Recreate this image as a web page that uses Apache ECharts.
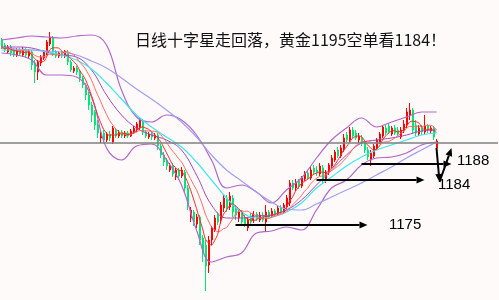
<!DOCTYPE html>
<html><head><meta charset="utf-8">
<script src="https://cdn.jsdelivr.net/npm/echarts/dist/echarts.min.js"></script>
<style>html,body{margin:0;padding:0;background:#fffafa}#c{width:499px;height:300px}</style>
</head><body><div id="c"></div>
<script>
const titleText = '日线十字星走回落，黄金1195空单看1184！';
const slots = 166;
const categories = Array.from({length: slots}, (_, i) => 'K' + (i + 1));
// [open, close, low, high]
const candles = [
[1212.0,1210.6,1210.2,1212.4],[1211.0,1210.0,1209.6,1211.4],[1209.6,1210.6,1209.2,1211.0],[1210.6,1209.4,1208.8,1211.0],
[1210.0,1209.0,1208.6,1210.4],[1209.0,1210.0,1208.6,1210.4],[1210.0,1209.2,1208.8,1210.4],[1209.0,1210.2,1208.6,1210.6],
[1210.0,1209.0,1208.4,1210.4],[1208.8,1209.8,1208.4,1210.2],[1209.6,1207.0,1206.0,1210.0],[1207.4,1205.6,1203.4,1208.0],
[1205.6,1207.6,1204.0,1208.0],[1207.4,1208.6,1206.8,1209.0],[1208.4,1209.6,1208.0,1210.0],[1209.4,1211.6,1209.0,1212.0],
[1211.2,1212.6,1210.8,1213.6],[1212.4,1209.6,1208.8,1212.8],[1209.6,1208.8,1208.4,1210.0],[1208.8,1209.4,1208.4,1209.8],
[1209.4,1208.8,1208.4,1209.8],[1208.8,1209.8,1208.4,1210.0],[1209.6,1207.6,1207.0,1210.0],[1207.6,1206.0,1205.6,1208.0],
[1205.8,1206.4,1205.4,1206.8],[1206.4,1205.6,1205.0,1206.8],[1205.6,1204.4,1203.6,1206.0],[1204.4,1203.0,1202.4,1204.8],
[1203.0,1201.0,1200.0,1203.4],[1201.0,1199.0,1198.0,1201.6],[1199.0,1197.0,1195.6,1199.6],[1197.6,1195.0,1194.0,1198.0],
[1195.0,1193.4,1192.4,1196.0],[1192.4,1193.4,1191.4,1194.0],[1193.4,1192.0,1191.4,1194.0],[1192.0,1193.2,1191.6,1193.6],
[1193.2,1192.4,1191.8,1193.8],[1191.6,1194.4,1191.2,1194.8],[1194.0,1192.8,1192.4,1194.4],[1192.8,1193.6,1192.4,1194.0],
[1193.6,1192.8,1192.4,1194.0],[1192.8,1193.4,1192.4,1193.8],[1193.4,1192.8,1192.4,1193.8],[1192.8,1193.8,1192.6,1194.2],
[1193.6,1194.4,1193.2,1194.8],[1194.0,1195.2,1193.6,1195.6],[1194.4,1196.0,1194.0,1196.6],[1195.8,1193.6,1193.0,1196.2],
[1193.6,1192.8,1192.4,1194.0],[1192.6,1193.2,1192.2,1193.6],[1193.2,1192.6,1192.0,1193.6],[1192.4,1193.0,1192.0,1193.4],
[1193.0,1190.8,1190.0,1193.4],[1190.8,1189.0,1188.4,1191.2],[1189.0,1187.6,1186.8,1189.6],[1188.0,1186.8,1186.0,1188.4],
[1186.0,1187.0,1185.6,1187.4],[1186.8,1185.2,1184.6,1187.4],[1184.6,1186.0,1184.0,1186.4],[1186.0,1184.8,1184.0,1186.4],
[1184.8,1186.0,1184.4,1186.6],[1185.6,1182.4,1181.6,1186.0],[1182.4,1179.0,1178.0,1183.0],[1176.4,1178.0,1175.6,1178.6],
[1177.6,1175.6,1174.8,1178.0],[1175.2,1176.6,1174.4,1177.2],[1176.6,1172.0,1171.0,1177.0],[1172.4,1169.6,1167.6,1173.0],
[1171.0,1166.8,1161.8,1172.0],[1167.0,1172.0,1165.4,1172.8],[1172.0,1174.4,1171.0,1174.8],[1174.0,1176.4,1173.6,1177.0],
[1177.0,1175.6,1175.0,1177.6],[1176.0,1179.0,1175.2,1179.6],[1178.4,1180.4,1177.6,1181.0],[1180.4,1178.4,1177.6,1181.0],
[1178.6,1180.8,1178.0,1181.6],[1180.4,1177.6,1176.6,1181.0],[1178.4,1177.0,1176.0,1179.0],[1176.4,1177.6,1175.6,1178.0],
[1177.6,1175.6,1175.0,1178.0],[1176.4,1175.2,1174.6,1177.0],[1174.4,1176.0,1173.8,1176.6],[1176.8,1175.6,1175.2,1177.4],
[1176.0,1177.2,1175.4,1177.8],[1177.2,1176.2,1175.8,1177.6],[1176.0,1177.0,1175.6,1177.6],[1177.0,1176.0,1175.6,1177.6],
[1175.6,1177.6,1173.6,1179.0],[1177.6,1176.6,1176.2,1178.0],[1176.8,1177.8,1176.4,1178.4],[1177.8,1177.0,1176.6,1178.2],
[1177.2,1178.4,1176.8,1179.0],[1178.4,1177.6,1177.2,1179.0],[1177.6,1179.0,1177.2,1179.4],[1178.6,1180.4,1178.0,1181.0],
[1179.4,1183.4,1178.8,1184.0],[1183.4,1182.4,1182.0,1184.0],[1182.4,1183.6,1181.8,1184.2],[1183.8,1182.8,1182.2,1184.2],
[1182.8,1184.4,1182.4,1184.8],[1184.2,1185.4,1183.8,1185.8],[1185.4,1184.4,1184.0,1185.8],[1184.4,1186.0,1184.0,1186.6],
[1186.4,1185.6,1185.0,1187.0],[1186.0,1185.4,1184.8,1186.8],[1185.2,1186.8,1184.8,1187.4],[1186.4,1184.0,1183.2,1187.0],
[1184.0,1185.6,1183.4,1186.0],[1185.6,1187.0,1185.0,1187.4],[1186.8,1188.4,1186.4,1189.0],[1188.0,1189.6,1187.6,1190.0],
[1190.0,1188.8,1188.4,1190.6],[1188.8,1190.4,1188.4,1191.0],[1190.0,1192.4,1189.6,1193.2],[1193.0,1192.0,1191.6,1193.6],
[1192.0,1194.0,1191.6,1194.6],[1194.0,1192.8,1192.4,1194.6],[1193.4,1192.4,1192.0,1194.0],[1192.0,1192.8,1191.4,1193.4],
[1192.4,1191.4,1190.8,1193.0],[1191.6,1190.0,1189.4,1192.0],[1190.0,1188.6,1188.0,1190.6],[1188.0,1189.4,1186.8,1190.0],
[1188.8,1190.8,1188.4,1191.2],[1190.4,1192.0,1190.0,1192.4],[1191.6,1193.2,1191.2,1193.6],[1192.8,1194.6,1192.4,1195.0],
[1194.4,1193.4,1193.0,1195.0],[1194.8,1193.6,1193.2,1195.4],[1193.2,1194.4,1192.8,1194.8],[1194.4,1193.4,1193.0,1195.0],
[1194.0,1193.2,1192.8,1194.6],[1192.6,1194.0,1192.2,1194.6],[1193.8,1195.2,1193.4,1196.0],[1195.0,1197.6,1194.4,1198.4],
[1197.0,1198.0,1196.0,1199.4],[1198.0,1194.0,1193.2,1198.4],[1195.0,1193.4,1192.8,1196.0],[1193.2,1194.4,1192.8,1195.0],
[1194.4,1193.6,1193.0,1195.0],[1193.6,1194.8,1193.2,1197.0],[1194.8,1194.0,1193.4,1195.2],[1193.8,1194.4,1193.4,1194.8],
[1194.4,1192.6,1192.0,1194.8],[1190.4,1191.8,1190.0,1192.2]
];
// indicator lines, read every 5 bars
const lineIdx = [0,5,10,15,20,25,30,35,40,45,50,55,60,65,70,75,80,85,90,95,100,105,110,115,120,125,130,135,140,145];
const bollUpper = [1212,1212.4,1212.8,1212.6,1212.4,1212.8,1213,1211,1202,1196.6,1195.6,1197,1196,1193,1188,1182.4,1183,1181.6,1179.4,1182,1184.4,1188.4,1192,1194.4,1196.4,1194.6,1195.6,1196.6,1197.6,1197.6];
const bollMid = [1210.6,1210.6,1210.4,1209.6,1209,1208.6,1206,1201,1197,1194.4,1193,1192,1190,1185,1179,1176.4,1176.4,1176.8,1177,1178,1180,1183,1186,1189,1191.4,1192,1192.4,1193,1193.8,1194];
const bollLower = [1209.4,1209,1208,1205,1205,1204.6,1200.6,1190.4,1188,1190.8,1191.2,1188,1183,1174,1167.6,1168.6,1169.4,1173.4,1173.8,1174.6,1174,1178,1182.4,1184,1187,1188.4,1188.6,1189.4,1191,1191.6];
const maCyan = [1210,1210,1210,1209.6,1209,1208,1206.2,1203.4,1200.2,1197,1194.6,1192.6,1190.6,1187.6,1184,1180.4,1177.6,1176.4,1176.6,1177.6,1179.4,1182.4,1184.6,1186.8,1188.6,1190,1191,1192,1193,1193.4];
const maLavender = [1210.4,1210.2,1210,1209.8,1209.6,1209,1207.8,1206.4,1204.4,1202.2,1200.2,1198,1195.6,1192.6,1189,1186,1183.8,1181.6,1179.6,1178.2,1178,1179.2,1180.6,1182,1183.4,1185,1186.6,1188.4,1190,1191.6];
// annotation levels
const levelLine = 1191.4;
const arrow1175 = [[78,1175],[122,1175]];
const arrow1184 = [[105,1184],[141,1184]];
const arrow1188 = [[120,1187.2],[150,1187.2]];
const arrowDown = [[145,1190.4],[146,1183.6]];
const arrowUp = [[146,1183.6],[150,1190.4]];
const labels = [{t:'1188',x:457,y:153},{t:'1184',x:438,y:177},{t:'1175',x:389,y:217}];

function ma(n){
  return candles.map((c,i)=>{const s=Math.max(0,i-n+1);let sum=0;for(let j=s;j<=i;j++)sum+=candles[j][1];return +(sum/(i-s+1)).toFixed(2);});
}
const ma5 = ma(5), ma10 = ma(10);
const mk = (name, pts, color, smooth, w) => ({type:'line', name, data: pts, smooth: smooth, symbol:'none', silent:true, lineStyle:{color, width:w||1}, z:3});
const sampled = vals => lineIdx.map((x,k)=>[x, vals[k]]);
const arrowLine = (name, a) => ({type:'line', name, data:a, symbol:['none','arrow'], symbolSize:9, showSymbol:true, silent:true,
  lineStyle:{color:'#000',width:1.8}, itemStyle:{color:'#000'}, z:6});

const chart = echarts.init(document.getElementById('c'), null, {renderer:'canvas'});
chart.setOption({
  animation:false,
  backgroundColor:'#fffafa',
  grid:{left:0,right:1,top:0,bottom:0},
  xAxis:{type:'category',data:categories,boundaryGap:true,show:false},
  yAxis:{type:'value',min:1160,max:1220,show:false},
  series:[
    {type:'candlestick',data:candles,barWidth:1.5,z:2,
      itemStyle:{color:'#ff0000',color0:'#00e676',borderColor:'#ff0000',borderColor0:'#00e676',borderWidth:1},
      markLine:{silent:true,symbol:'none',label:{show:false},
        data:[{yAxis:levelLine,lineStyle:{color:'#808080',width:1.5,type:'solid'}}]}
    },
    mk('BOLL上轨', sampled(bollUpper), '#b266c8', 0.4, 1.2),
    mk('BOLL中轨', sampled(bollMid), '#a04cb8', 0.4, 1),
    mk('BOLL下轨', sampled(bollLower), '#b266c8', 0.4, 1.2),
    mk('MA青', sampled(maCyan), '#3ee6f2', 0.4, 1.2),
    mk('MA紫', sampled(maLavender), '#a0a0f0', 0.4, 1.2),
    mk('MA10', ma10, '#ff6a6a', 0.3, 1),
    mk('MA5', ma5, '#ff2a2a', 0.3, 1),
    {type:'custom', name:'arrows', silent:true, z:6,
      data:[arrow1175,arrow1184,arrow1188,arrowDown,arrowUp].map(a=>[a[0][0],a[0][1],a[1][0],a[1][1]]),
      renderItem:(params, api)=>{
        const p0 = api.coord([api.value(0), api.value(1)]);
        const p1 = api.coord([api.value(2), api.value(3)]);
        const ang = Math.atan2(p1[1]-p0[1], p1[0]-p0[0]);
        const L = 8, W = 3.5;
        const bx = p1[0]-L*Math.cos(ang), by = p1[1]-L*Math.sin(ang);
        const nx = -Math.sin(ang)*W, ny = Math.cos(ang)*W;
        return {type:'group', children:[
          {type:'line', shape:{x1:p0[0],y1:p0[1],x2:bx,y2:by}, style:{stroke:'#000',lineWidth:2}},
          {type:'polygon', shape:{points:[[p1[0],p1[1]],[bx+nx,by+ny],[bx-nx,by-ny]]}, style:{fill:'#000'}}
        ]};
      }
    }
  ],
  graphic:[
    {type:'text',left:135,top:32,style:{text:titleText,font:'16px "Noto Sans CJK SC"',fill:'#111'}}
  ].concat(labels.map(l=>({type:'text',left:l.x,top:l.y,style:{text:l.t,font:'15px "Liberation Sans"',fill:'#000'}})))
});
</script></body></html>
